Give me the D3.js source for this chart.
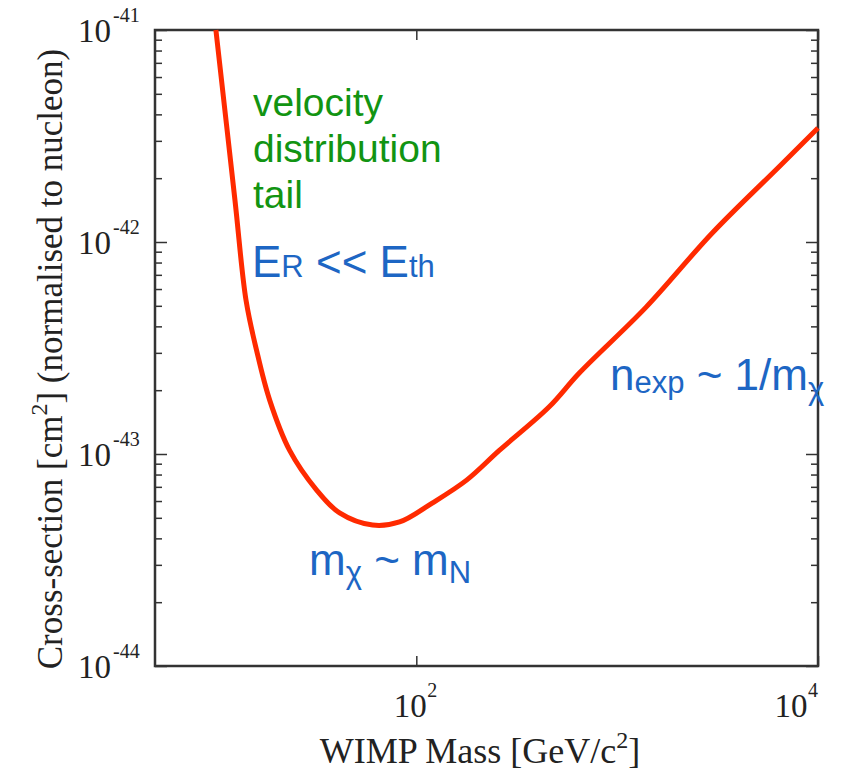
<!DOCTYPE html>
<html>
<head>
<meta charset="utf-8">
<script src="https://cdn.jsdelivr.net/npm/d3@7"></script>
<style>
  body { margin: 0; background: #fff; }
  svg { display: block; }
</style>
</head>
<body>
<div id="chart"></div>
<script>
// curve (GeV, cm^2)
const mass  = [10.05, 12.5, 14.2, 16.0, 18.6, 23.4, 31.9, 41.5, 60.6, 82.5, 120, 178, 259, 459, 648, 1394, 2967, 6385, 10000];
const sigma = [1e-41, 1.58e-42, 5.3e-43, 3.1e-43, 1.8e-43, 1.04e-43, 6.76e-44, 5.27e-44, 4.62e-44, 4.78e-44, 5.87e-44, 7.53e-44, 1.04e-43, 1.67e-43, 2.41e-43, 4.93e-43, 1.10e-42, 2.26e-42, 3.45e-42];

const xTicks = [100, 10000];
const xExp = ["2", "4"];
const yTicks = [1e-44, 1e-43, 1e-42, 1e-41];
const yExp = ["-44", "-43", "-42", "-41"];

var width = 846, height = 773;
var mLeft = 155, mRight = 818, mTop = 30, mBottom = 666;

var svg = d3.select("#chart").append("svg")
    .attr("width", width)
    .attr("height", height);

var x = d3.scaleLog().domain([5, 10000]).range([mLeft, mRight]);
var y = d3.scaleLog().domain([1e-44, 1e-41]).range([mBottom, mTop]);

// minor y ticks 2..9 of each decade
var yMinor = [];
yTicks.slice(0, 3).forEach(function(d) {
    for (var k = 2; k < 10; k++) yMinor.push(d * k);
});

var axisColor = "#333";

function styleAxis(g) {
    g.select(".domain").remove();
    g.selectAll("text").remove();
    g.selectAll("line").attr("stroke", axisColor).attr("stroke-width", 1.5);
}

// left side, ticks pointing inward
svg.append("g").attr("transform", "translate(" + mLeft + ",0)")
    .call(d3.axisRight(y).tickValues(yTicks).tickSize(12)).call(styleAxis);
svg.append("g").attr("transform", "translate(" + mLeft + ",0)")
    .call(d3.axisRight(y).tickValues(yMinor).tickSize(7)).call(styleAxis);
// right side
svg.append("g").attr("transform", "translate(" + mRight + ",0)")
    .call(d3.axisLeft(y).tickValues(yTicks).tickSize(12)).call(styleAxis);
svg.append("g").attr("transform", "translate(" + mRight + ",0)")
    .call(d3.axisLeft(y).tickValues(yMinor).tickSize(7)).call(styleAxis);
// bottom and top
svg.append("g").attr("transform", "translate(0," + mBottom + ")")
    .call(d3.axisTop(x).tickValues(xTicks).tickSize(10)).call(styleAxis);
svg.append("g").attr("transform", "translate(0," + mTop + ")")
    .call(d3.axisBottom(x).tickValues(xTicks).tickSize(10)).call(styleAxis);

// frame
svg.append("rect")
    .attr("x", mLeft).attr("y", mTop)
    .attr("width", mRight - mLeft).attr("height", mBottom - mTop)
    .style("fill", "none")
    .style("stroke", axisColor)
    .style("stroke-width", 2.5);

// tick labels
var serif = "'Liberation Serif', 'Times New Roman', serif";

yTicks.forEach(function(d, i) {
    svg.append("text")
        .attr("x", 111)
        .attr("y", y(d) + 12)
        .attr("text-anchor", "end")
        .style("font-family", serif)
        .style("font-size", "33px")
        .style("fill", "#222")
        .text("10");
    svg.append("text")
        .attr("x", 113)
        .attr("y", y(d) - 8)
        .style("font-family", serif)
        .style("font-size", "20px")
        .style("fill", "#222")
        .text(yExp[i]);
});

xTicks.forEach(function(d, i) {
    var cx = i == xTicks.length - 1 ? x(d) - 27 : x(d) - 6;
    svg.append("text")
        .attr("x", cx)
        .attr("y", 717)
        .attr("text-anchor", "middle")
        .style("font-family", serif)
        .style("font-size", "33px")
        .style("fill", "#222")
        .text("10");
    svg.append("text")
        .attr("x", cx + 17)
        .attr("y", 697)
        .style("font-family", serif)
        .style("font-size", "20px")
        .style("fill", "#222")
        .text(xExp[i]);
});

// axis titles
var xt = svg.append("text")
    .attr("x", 480)
    .attr("y", 763)
    .attr("text-anchor", "middle")
    .style("font-family", serif)
    .style("font-size", "36px")
    .style("fill", "#222");
xt.append("tspan").text("WIMP Mass [GeV/c");
xt.append("tspan").attr("dy", -15).style("font-size", "24px").text("2");
xt.append("tspan").attr("dy", 15).text("]");

var yt = svg.append("text")
    .attr("transform", "translate(62,359) rotate(-90)")
    .attr("text-anchor", "middle")
    .style("font-family", serif)
    .style("font-size", "35px")
    .style("fill", "#222");
yt.append("tspan").text("Cross-section [cm");
yt.append("tspan").attr("dy", -15).style("font-size", "24px").text("2");
yt.append("tspan").attr("dy", 15).text("] (normalised to nucleon)");

// the curve
var line = d3.line()
    .x(function(d, i) { return x(mass[i]); })
    .y(function(d, i) { return y(sigma[i]); })
    .curve(d3.curveCatmullRom.alpha(0.5));

svg.append("path")
    .datum(mass)
    .attr("d", line)
    .style("fill", "none")
    .style("stroke", "#ff2a00")
    .style("stroke-width", 5)
    .style("stroke-linejoin", "round");

// annotations
var sans = "'Liberation Sans', Arial, Helvetica, sans-serif";
var green = "#129412";
var blue = "#1d66c4";

["velocity", "distribution", "tail"].forEach(function(s, i) {
    svg.append("text")
        .attr("x", 253)
        .attr("y", 116 + i * 46)
        .style("font-family", sans)
        .style("font-size", "39px")
        .style("fill", green)
        .text(s);
});

function label(xp, yp, parts) {
    var t = svg.append("text")
        .attr("x", xp).attr("y", yp)
        .style("font-family", sans)
        .style("fill", blue)
        .style("font-size", "44px");
    parts.forEach(function(p) {
        t.append("tspan")
            .attr("dy", p.dy || 0)
            .style("font-size", p.size ? p.size + "px" : null)
            .text(p.t);
    });
}

label(252, 277, [{t: "E"}, {t: "R", size: 31}, {t: " << E"}, {t: "th", size: 31}]);
label(309, 575, [{t: "m"}, {t: "χ", size: 31, dy: 8}, {t: " ~ m", dy: -8}, {t: "N", size: 31, dy: 8}]);
label(610, 390, [{t: "n"}, {t: "exp", size: 31, dy: 3}, {t: " ~ 1/m", dy: -3}, {t: "χ", size: 31, dy: 9}]);
</script>
</body>
</html>
